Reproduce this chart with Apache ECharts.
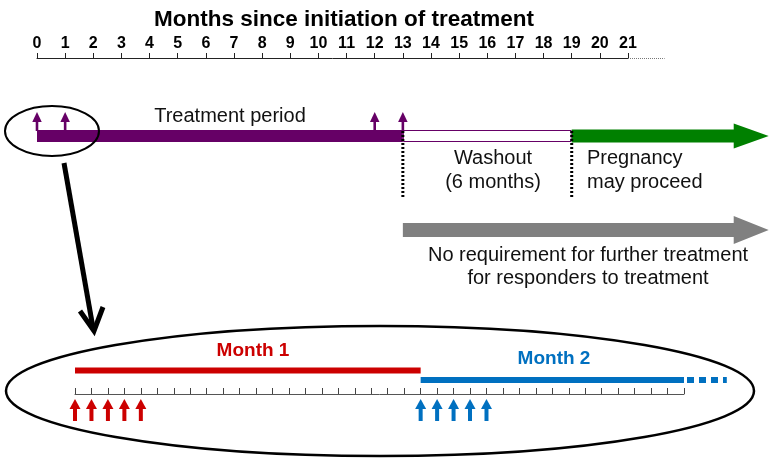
<!DOCTYPE html>
<html><head><meta charset="utf-8">
<script src="https://cdn.jsdelivr.net/npm/echarts@6/dist/echarts.min.js"></script>
<style>html,body{margin:0;padding:0;background:#fff}#c{width:773px;height:461px}</style>
</head><body><div id="c"></div>
<script>
// ---- data ----
const monthTicks = [0,1,2,3,4,5,6,7,8,9,10,11,12,13,14,15,16,17,18,19,20,21];
const treatmentPeriod = [0, 13];
const washoutPeriod = [13, 19];
const pregnancyPeriod = [19, 26];
const noFurtherTreatment = [13, 26];
const axisContinuation = [21, 22.3];
const doseMonths = [0, 1, 12, 13];
const washoutBounds = [13, 19];
const dayTickMax = 37;
const month1Span = [0, 21];
const month2Span = [21, 37];
const month2Continues = [37, 39.6];
const month1Doses = [0, 1, 2, 3, 4];
const month2Doses = [21, 22, 23, 24, 25];

const FONT = "'Liberation Sans', Arial, Helvetica, sans-serif";
const PURPLE = '#660066', GREEN = '#008000', GRAY = '#808080', RED = '#cc0000', BLUE = '#0070c0';
const ROW_TOP_AXIS = 58, ROW_BAR = 136, ROW_ARROW2 = 230, ROW_M1 = 370.5, ROW_M2 = 380;

function xOf(api, v) { return api.coord([v, 0])[0]; }

function blockArrow(x0, x1, cy, bodyH, headH, headL, color) {
  const hx = x1 - headL;
  return { type: 'polygon', shape: { points: [
    [x0, cy - bodyH/2], [hx, cy - bodyH/2], [hx, cy - headH/2], [x1, cy],
    [hx, cy + headH/2], [hx, cy + bodyH/2], [x0, cy + bodyH/2]] },
    style: { fill: color } };
}
function upArrow(x, tipY, headBaseY, bottomY, stemW, headW, color) {
  return { type: 'group', children: [
    { type: 'rect', shape: { x: x - stemW/2, y: headBaseY - 1, width: stemW, height: bottomY - headBaseY + 1 }, style: { fill: color } },
    { type: 'polygon', shape: { points: [[x - headW/2, headBaseY], [x, tipY], [x + headW/2, headBaseY]] }, style: { fill: color } }
  ]};
}

const option = {
  animation: false,
  backgroundColor: '#fff',
  title: {
    text: 'Months since initiation of treatment',
    left: 149, top: 3,
    textStyle: { fontFamily: FONT, fontSize: 22.5, fontWeight: 'bold', color: '#000' }
  },
  grid: [
    { left: 37, right: 145, top: ROW_TOP_AXIS, height: 300 },
    { left: 75, width: 609, top: 394, height: 30 }
  ],
  xAxis: [
    { gridIndex: 0, type: 'value', position: 'top', min: 0, max: 21, interval: 1,
      axisLine: { show: true, onZero: false, lineStyle: { color: '#222', width: 1 } },
      axisTick: { show: true, length: 5, lineStyle: { color: '#222' } },
      axisLabel: { margin: 6, fontFamily: FONT, fontSize: 16, fontWeight: 'bold', color: '#000',
        formatter: v => monthTicks.indexOf(v) >= 0 ? String(v) : '' },
      splitLine: { show: false } },
    { gridIndex: 1, type: 'value', position: 'top', min: 0, max: dayTickMax, interval: 1,
      axisLine: { show: true, onZero: false, lineStyle: { color: '#555', width: 1 } },
      axisTick: { show: true, length: 6, lineStyle: { color: '#444' } },
      axisLabel: { show: false }, splitLine: { show: false } }
  ],
  yAxis: [
    { gridIndex: 0, type: 'value', min: 0, max: 1, show: false },
    { gridIndex: 1, type: 'value', min: 0, max: 1, show: false }
  ],
  series: [
    { // phases
      type: 'custom', xAxisIndex: 0, yAxisIndex: 0, clip: false, silent: true,
      data: [
        [treatmentPeriod[0], treatmentPeriod[1], 0],
        [washoutPeriod[0], washoutPeriod[1], 1],
        [pregnancyPeriod[0], pregnancyPeriod[1], 2],
        [noFurtherTreatment[0], noFurtherTreatment[1], 3]
      ],
      renderItem: (p, api) => {
        const a = xOf(api, api.value(0)), b = xOf(api, api.value(1)), k = api.value(2);
        if (k === 0) return { type: 'rect', shape: { x: a, y: ROW_BAR - 6, width: b - a, height: 12 }, style: { fill: PURPLE } };
        if (k === 1) return { type: 'rect', shape: { x: a + 0.5, y: ROW_BAR - 5.5, width: b - a - 1, height: 11 }, style: { fill: '#fff', stroke: PURPLE, lineWidth: 1 } };
        if (k === 2) return blockArrow(a, b, ROW_BAR, 13, 25, 35, GREEN);
        return blockArrow(a, b, ROW_ARROW2, 14, 28, 35, GRAY);
      }
    },
    { // dotted boundaries
      type: 'custom', xAxisIndex: 0, yAxisIndex: 0, clip: false, silent: true, z: 5,
      data: washoutBounds.map(v => [v]),
      renderItem: (p, api) => {
        const x = xOf(api, api.value(0));
        return { type: 'line', shape: { x1: x, y1: 131, x2: x, y2: 198 },
          style: { stroke: '#000', lineWidth: 3, lineDash: [2, 2] } };
      }
    },
    { // dose arrows (months)
      type: 'custom', xAxisIndex: 0, yAxisIndex: 0, clip: false, silent: true,
      data: doseMonths.map(v => [v]),
      renderItem: (p, api) => upArrow(xOf(api, api.value(0)), 112, 122, 131, 2.6, 9.5, PURPLE)
    },
    { // axis continuation
      type: 'custom', xAxisIndex: 0, yAxisIndex: 0, clip: false, silent: true,
      data: [axisContinuation],
      renderItem: (p, api) => ({ type: 'line',
        shape: { x1: xOf(api, api.value(0)), y1: ROW_TOP_AXIS + 0.5, x2: xOf(api, api.value(1)), y2: ROW_TOP_AXIS + 0.5 },
        style: { stroke: '#777', lineWidth: 1, lineDash: [1, 1] } })
    },
    { // month bars
      type: 'custom', xAxisIndex: 1, yAxisIndex: 1, clip: false, silent: true,
      data: [[month1Span[0], month1Span[1], 0], [month2Span[0], month2Span[1], 1], [month2Continues[0], month2Continues[1], 2]],
      renderItem: (p, api) => {
        const a = xOf(api, api.value(0)), b = xOf(api, api.value(1)), k = api.value(2);
        if (k === 0) return { type: 'rect', shape: { x: a, y: ROW_M1 - 3, width: b - a, height: 6 }, style: { fill: RED } };
        if (k === 1) return { type: 'rect', shape: { x: a, y: ROW_M2 - 3, width: b - a, height: 6 }, style: { fill: BLUE } };
        return { type: 'line', shape: { x1: a + 3, y1: ROW_M2, x2: b, y2: ROW_M2 }, style: { stroke: BLUE, lineWidth: 6, lineDash: [7, 5] } };
      }
    },
    { // month 1 doses
      type: 'custom', xAxisIndex: 1, yAxisIndex: 1, clip: false, silent: true,
      data: month1Doses.map(v => [v]),
      renderItem: (p, api) => upArrow(xOf(api, api.value(0)), 399, 409, 421, 4, 11, RED)
    },
    { // month 2 doses
      type: 'custom', xAxisIndex: 1, yAxisIndex: 1, clip: false, silent: true,
      data: month2Doses.map(v => [v]),
      renderItem: (p, api) => upArrow(xOf(api, api.value(0)), 399, 409, 421, 4, 11, BLUE)
    }
  ],
  graphic: [
    { type: 'ellipse', shape: { cx: 52, cy: 131, rx: 47, ry: 25 }, style: { fill: 'none', stroke: '#000', lineWidth: 2 }, z: 10 },
    { type: 'ellipse', shape: { cx: 380, cy: 391, rx: 374, ry: 65 }, style: { fill: 'none', stroke: '#000', lineWidth: 2.5 }, z: 10 },
    { type: 'line', shape: { x1: 64, y1: 163, x2: 93, y2: 328 }, style: { stroke: '#000', lineWidth: 5 }, z: 10 },
    { type: 'polyline', shape: { points: [[80, 311], [94, 331], [103, 307]] }, style: { stroke: '#000', lineWidth: 5, fill: 'none' }, z: 10 },
    { type: 'text', x: 230, y: 116, style: { text: 'Treatment period', font: '20px ' + FONT, fill: '#111', textAlign: 'center', textVerticalAlign: 'middle' } },
    { type: 'text', x: 493, y: 158, style: { text: 'Washout', font: '20px ' + FONT, fill: '#111', textAlign: 'center', textVerticalAlign: 'middle' } },
    { type: 'text', x: 493, y: 182, style: { text: '(6 months)', font: '20px ' + FONT, fill: '#111', textAlign: 'center', textVerticalAlign: 'middle' } },
    { type: 'text', x: 587, y: 158, style: { text: 'Pregnancy', font: '20px ' + FONT, fill: '#111', textAlign: 'left', textVerticalAlign: 'middle' } },
    { type: 'text', x: 587, y: 182, style: { text: 'may proceed', font: '20px ' + FONT, fill: '#111', textAlign: 'left', textVerticalAlign: 'middle' } },
    { type: 'text', x: 588, y: 255, style: { text: 'No requirement for further treatment', font: '20px ' + FONT, fill: '#111', textAlign: 'center', textVerticalAlign: 'middle' } },
    { type: 'text', x: 588, y: 278, style: { text: 'for responders to treatment', font: '20px ' + FONT, fill: '#111', textAlign: 'center', textVerticalAlign: 'middle' } },
    { type: 'text', x: 253, y: 351, style: { text: 'Month 1', font: 'bold 19px ' + FONT, fill: RED, textAlign: 'center', textVerticalAlign: 'middle' } },
    { type: 'text', x: 554, y: 359, style: { text: 'Month 2', font: 'bold 19px ' + FONT, fill: BLUE, textAlign: 'center', textVerticalAlign: 'middle' } }
  ]
};
const chart = echarts.init(document.getElementById('c'), null, { renderer: 'canvas' });
chart.setOption(option);
</script></body></html>
